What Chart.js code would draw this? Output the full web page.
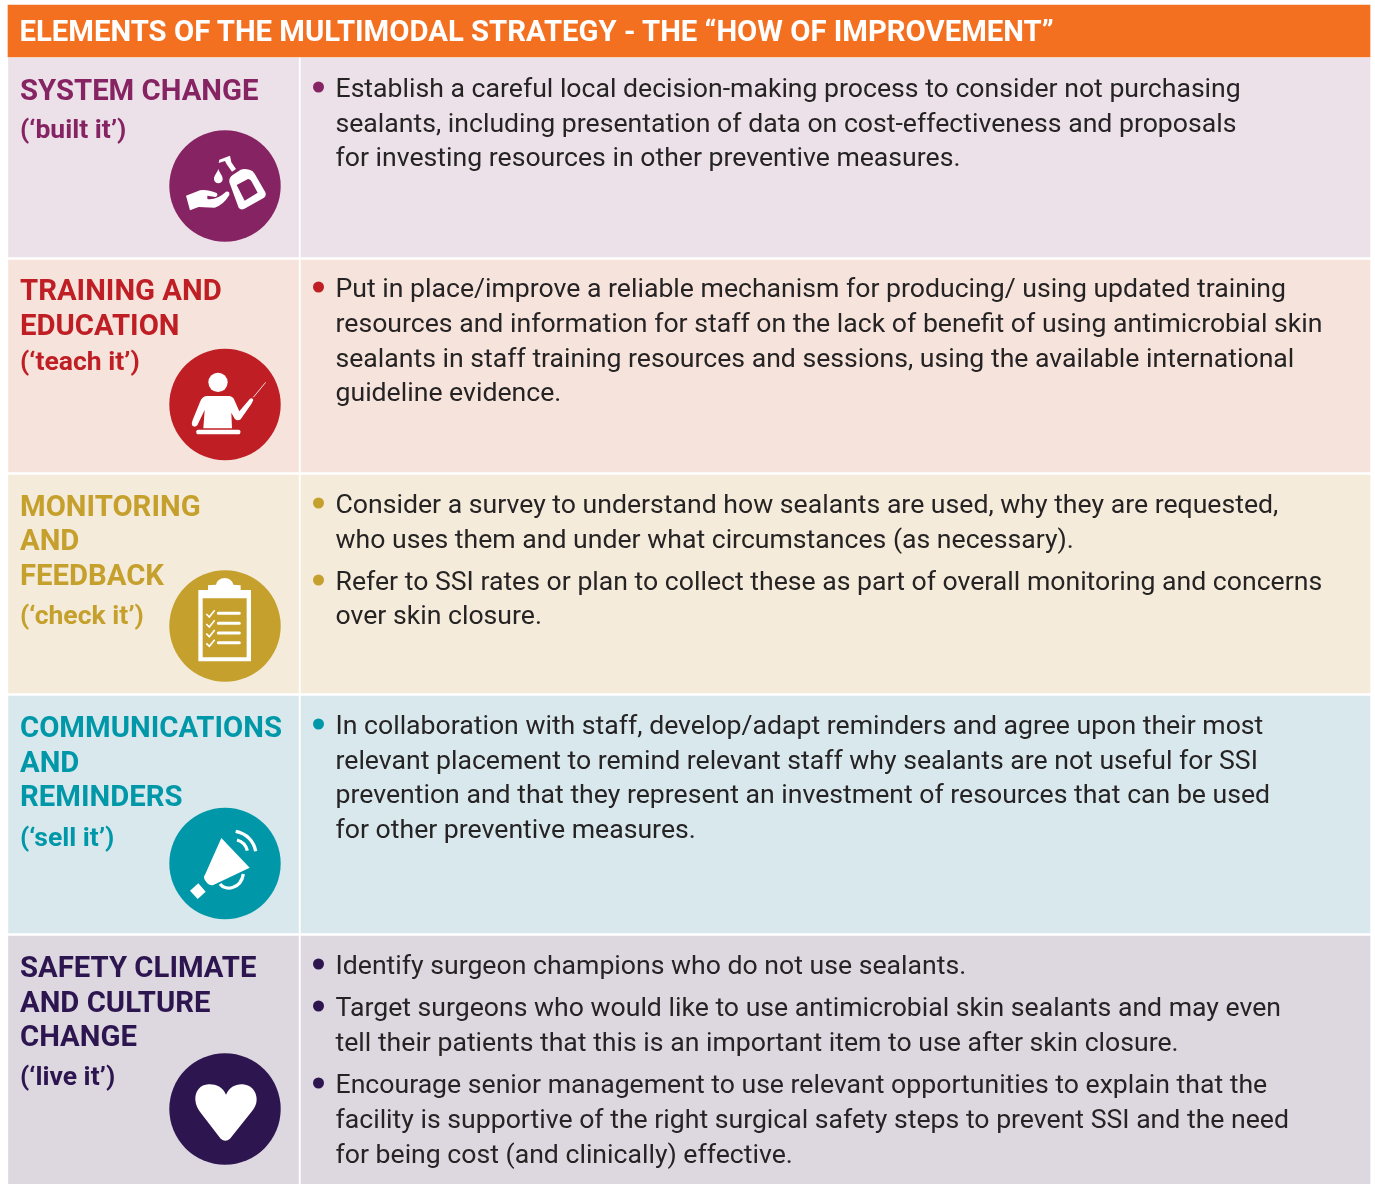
<!DOCTYPE html>
<html><head><meta charset="utf-8">
<script src="https://cdn.jsdelivr.net/npm/chart.js@4"></script>
<style>
html,body{margin:0;padding:0;background:#fff;width:1375px;height:1184px;overflow:hidden}
#wrap{position:relative;width:1375px;height:1184px;font-family:Roboto,sans-serif}
canvas{position:absolute;left:0;top:0}
.t{position:absolute;white-space:pre;line-height:normal}
svg{position:absolute;overflow:visible}
</style></head><body><div id="wrap"><canvas id="c" width="1375" height="1184"></canvas></div>
<script>
// ---- content ----
const headerText = "ELEMENTS OF THE MULTIMODAL STRATEGY - THE “HOW OF IMPROVEMENT”";
const elementNames = ["SYSTEM CHANGE","TRAINING AND\nEDUCATION","MONITORING\nAND\nFEEDBACK","COMMUNICATIONS\nAND\nREMINDERS","SAFETY CLIMATE\nAND CULTURE\nCHANGE"];
const elementTags = ["(‘built it’)","(‘teach it’)","(‘check it’)","(‘sell it’)","(‘live it’)"];
const titleBaselines = [[100],[300,335],[516,550,585],[737,772,806],[977,1012,1046]];
const tagBaselines = [138,370,624,846,1085];
const bodyLines = [
 [["Establish a careful local decision-making process to consider not purchasing","sealants, including presentation of data on cost-effectiveness and proposals","for investing resources in other preventive measures."]],
 [["Put in place/improve a reliable mechanism for producing/ using updated training","resources and information for staff on the lack of benefit of using antimicrobial skin","sealants in staff training resources and sessions, using the available international","guideline evidence."]],
 [["Consider a survey to understand how sealants are used, why they are requested,","who uses them and under what circumstances (as necessary)."],["Refer to SSI rates or plan to collect these as part of overall monitoring and concerns","over skin closure."]],
 [["In collaboration with staff, develop/adapt reminders and agree upon their most","relevant placement to remind relevant staff why sealants are not useful for SSI","prevention and that they represent an investment of resources that can be used","for other preventive measures."]],
 [["Identify surgeon champions who do not use sealants."],["Target surgeons who would like to use antimicrobial skin sealants and may even","tell their patients that this is an important item to use after skin closure."],["Encourage senior management to use relevant opportunities to explain that the","facility is supportive of the right surgical safety steps to prevent SSI and the need","for being cost (and clinically) effective."]]
];
const bodyBaselines = [[[97,132,166]],[[297,332,367,401]],[[513,548],[590,624]],[[734,769,803,838]],[[974],[1016,1051],[1093,1128,1163]]];
// ---- marks ----
const headerSpan = [5,57];
const rowTops = [58,260,475,696,936];
const rowBottoms = [257,472,693,933,1184];
const rowColors = ["#ECE1E8","#F6E4DC","#F4EBDA","#D9E8ED","#DDD7E0"];
const accentColors = ["#862463","#BE1E24","#C5A02D","#0098A8","#2D1650"];
const iconCenterY = [186,404.5,626,863.5,1109];
const bulletY = [[87],[287],[503,580],[724],[964,1006,1083]];
const leftColX = 153.5, rightColX = 835.5, headerX = 689, iconX = 225, bulletX = 318.5;

const wrap = document.getElementById('wrap');
const rowIdx = rowTops.map((_,i)=>i);
const bullets = [];
bulletY.forEach((ys,i)=>ys.forEach(y=>bullets.push({x:bulletX,y,c:accentColors[i]})));

const chart = new Chart(document.getElementById('c'),{
  type:'bar',
  data:{datasets:[
    {type:'bar',label:'Header',grouped:false,barThickness:1362,backgroundColor:"#F47021",borderWidth:0,
     data:[{x:headerX,y:headerSpan}],order:3},
    {type:'bar',label:'Element',grouped:false,barThickness:290,backgroundColor:rowColors,borderWidth:0,
     data:rowIdx.map(i=>({x:leftColX,y:[rowTops[i],rowBottoms[i]]})),order:3},
    {type:'bar',label:'Actions',grouped:false,barThickness:1069,backgroundColor:rowColors,borderWidth:0,
     data:rowIdx.map(i=>({x:rightColX,y:[rowTops[i],rowBottoms[i]]})),order:3},
    {type:'scatter',label:'Icons',order:1,pointRadius:55.7,pointHoverRadius:55.7,borderWidth:0,backgroundColor:accentColors,
     data:rowIdx.map(i=>({x:iconX,y:iconCenterY[i]}))},
    {type:'scatter',label:'Bullets',order:1,pointRadius:5.5,pointHoverRadius:5.5,borderWidth:0,backgroundColor:bullets.map(b=>b.c),
     data:bullets.map(b=>({x:b.x,y:b.y}))}
  ]},
  options:{responsive:false,animation:false,
    layout:{padding:0,autoPadding:false},
    plugins:{legend:{display:false},tooltip:{enabled:false},title:{display:false}},
    scales:{
      x:{type:'linear',min:0,max:1375,display:false,offset:false},
      y:{type:'linear',min:0,max:1184,reverse:true,display:false}
    }}
});

function text(x,base,str,size,weight,color,ls){
  const d=document.createElement('div');d.className='t';d.textContent=str;
  d.style.cssText=`left:${x}px;top:${base-0.927*size}px;font-size:${size}px;font-weight:${weight};color:${color};letter-spacing:${ls||0}px`;
  wrap.appendChild(d);
}
const HS=29.3, TS=29.3, TAG=26.5, BS=26.63;
text(19.5,41,headerText,HS,700,"#fff");
rowIdx.forEach(i=>{
  elementNames[i].split("\n").forEach((s,j)=>text(20,titleBaselines[i][j],s,TS,700,accentColors[i]));
  text(20,tagBaselines[i],elementTags[i],TAG,700,accentColors[i]);
  bodyLines[i].forEach((para,p)=>para.forEach((s,j)=>text(335.5,bodyBaselines[i][p][j],s,BS,400,"#262324")));
});

// ---- icon glyphs (white, over the circles) ----
function svg(ox,oy,w,h,inner){
  const s=document.createElementNS('http://www.w3.org/2000/svg','svg');
  s.setAttribute('viewBox',`0 0 ${w*3} ${h*3}`);s.setAttribute('width',w);s.setAttribute('height',h);
  s.style.left=ox+'px';s.style.top=oy+'px';s.innerHTML=inner;wrap.appendChild(s);
}
svg(150,125,150,125,`<g fill="#fff">
<path fill-rule="evenodd" d="M238 172 Q236 158 248 150 L272 134 Q282 130 298 134 Q308 136 314 146 L346 202 Q350 212 342 218 L282 252 Q272 256 266 248 Z M260 180 L294 162 Q300 162 304 168 L323 203 L284 227 Z"/>
<path d="M246 140 L258 132 L244 112 L240 92 L208 104 L206 114 L225 108 L230 118 Z"/>
<path d="M205 132 C200 146 192 152 192 162 A13 13 0 0 0 218 162 C218 152 210 146 205 132Z"/>
<path d="M108 212 L150 196 Q170 192 200 204 Q206 212 196 216 L172 212 L172 222 Q200 226 228 200 Q240 198 238 210 Q220 240 194 248 L146 246 L120 256 Z"/></g>`);
svg(150,340,150,130,`<g fill="#fff">
<circle cx="204" cy="127" r="29"/>
<path d="M170 168 L238 168 Q250 170 254 182 L268 214 L300 176 Q308 172 310 180 L304 192 L272 238 Q262 244 254 236 L244 218 L246 265 L160 265 L164 210 L142 256 Q134 264 126 256 Q124 250 128 240 L150 186 Q156 170 170 168Z"/>
<rect x="139" y="269" width="132" height="14" rx="5"/></g>
<path d="M310 172 L347 127" stroke="#fff" stroke-width="2.5" fill="none"/>`);
svg(150,560,150,130,`<g fill="#fff">
<path fill-rule="evenodd" d="M145 90 L174 90 L174 76 L198 74 A27 27 0 0 1 250 74 L272 76 L272 90 L303 90 L303 304 L145 304 Z M158 115 L158 292 L290 292 L290 115 Z"/></g>
<g stroke="#fff" stroke-width="9" stroke-linecap="round" fill="none"><path d="M205 160H268M205 190H268M205 219H268M205 248H268"/></g>
<g stroke="#fff" stroke-width="5" fill="none"><path d="M169 162L178 171L194 151M169 192L178 201L194 181M169 221L178 230L194 210M169 250L178 259L194 239"/></g>`);
svg(150,800,150,130,`<g fill="#fff">
<path d="M214 114 L299 203 L190 255 Q180 258 172 250 L166 242 Q158 232 166 222 Z"/>
<path d="M145 250 L167 275 L143 297 L120 272 Z"/></g>
<g stroke="#fff" fill="none" stroke-linecap="butt">
<path d="M210 252 C225 272 272 270 280 222" stroke-width="10"/>
<path d="M257 94 C290 100 312 124 317 154" stroke-width="10"/>
<path d="M261 120 C276 124 288 136 292 152" stroke-width="10"/></g>`);
svg(150,1044,150,140,`<path fill="#fff" d="M228 152 C218 128 196 120 176 121 C150 122 135 142 136 168 C137 184 144 196 152 206 L212 284 Q226 296 240 284 L304 204 Q320 186 320 166 C320 140 300 122 278 121 C256 120 238 130 228 152 Z"/>`);
</script></body></html>
